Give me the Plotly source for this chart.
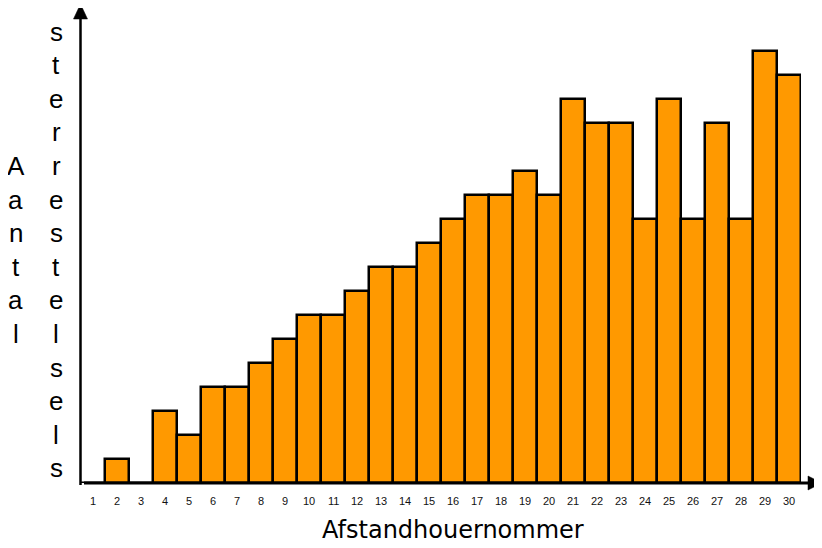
import plotly.graph_objects as go

bins = list(range(1, 31))
tick_labels = [str(b) for b in bins]
counts = [0, 1, 0, 3, 2, 4, 4, 5, 6, 7, 7, 8, 9, 9, 10, 11, 12, 12, 13, 12,
          16, 15, 15, 11, 16, 11, 15, 11, 18, 17]
x_title = "Afstandhouernommer"
y_word1 = "Aantal"
y_word2 = "sterrestelsels"

# the page body has an 8px margin; work in window pixels and convert
OFF = 8
W, H = 822 - OFF, 548 - OFF
PLOT_L, PLOT_R, PLOT_T, PLOT_B = 81, 801, 5, 483  # window pixels
L = PLOT_L - OFF
T = PLOT_T - OFF if PLOT_T - OFF > 0 else 0
pw = PLOT_R - PLOT_L
ph = PLOT_B - (T + OFF)
R = W - L - pw
B = H - T - ph
unit_px = 24.0


def px(xw):
    return (xw - PLOT_L) / pw


def py(yw):
    return (PLOT_B - yw) / ph


fig = go.Figure(go.Bar(
    x=bins, y=counts, width=1,
    marker=dict(color="#FF9900", line=dict(color="#000000", width=2.5)),
))

font_family = "Liberation Sans, Arial, sans-serif"
annotations = []
annotations.append(dict(text=x_title, x=px(453), y=py(530), xref="paper", yref="paper",
                        xanchor="center", yanchor="middle", showarrow=False,
                        font=dict(size=24, family="DejaVu Sans, sans-serif", color="#000")))
row0, step = 31.5, 33.6
for i, ch in enumerate(y_word2):
    annotations.append(dict(text=ch, x=px(56), y=py(row0 + step * i), xref="paper", yref="paper",
                            xanchor="center", yanchor="middle", showarrow=False,
                            font=dict(size=26, family=font_family, color="#000")))
for i, ch in enumerate(y_word1):
    annotations.append(dict(text=ch, x=px(15.5), y=py(row0 + step * (i + 4)), xref="paper", yref="paper",
                            xanchor="center", yanchor="middle", showarrow=False,
                            font=dict(size=26, family=font_family, color="#000")))
for b, lab in zip(bins, tick_labels):
    annotations.append(dict(text=lab, x=b, y=py(501), xref="x", yref="paper",
                            xanchor="center", yanchor="middle", showarrow=False,
                            font=dict(size=11, family=font_family, color="#111")))

shapes = [
    dict(type="line", xref="paper", yref="paper", x0=px(80.5), x1=px(80.5), y0=py(485), y1=py(18),
         line=dict(color="#000", width=2.5)),
    dict(type="path", xref="paper", yref="paper",
         path=f"M {px(73.5)} {py(19)} L {px(80.5)} {py(4)} L {px(87.5)} {py(19)} Z",
         fillcolor="#000", line=dict(color="#000", width=0.5)),
    dict(type="line", xref="paper", yref="paper", x0=px(84), x1=px(811), y0=py(483), y1=py(483),
         line=dict(color="#000", width=3)),
    dict(type="path", xref="paper", yref="paper",
         path=f"M {px(808)} {py(476)} L {px(822)} {py(483)} L {px(808)} {py(490)} Z",
         fillcolor="#000", line=dict(color="#000", width=0.5)),
]

fig.update_layout(
    width=W, height=H,
    margin=dict(l=L, r=R, t=T, b=B, pad=0),
    paper_bgcolor="white", plot_bgcolor="white",
    showlegend=False, bargap=0,
    xaxis=dict(range=[0.5, 30.5], showgrid=False, zeroline=False, showline=False,
               showticklabels=False, ticks=""),
    yaxis=dict(range=[0, ph / unit_px], showgrid=False, zeroline=False, showline=False,
               showticklabels=False, ticks=""),
    annotations=annotations, shapes=shapes,
)

fig.write_html("out.html")
